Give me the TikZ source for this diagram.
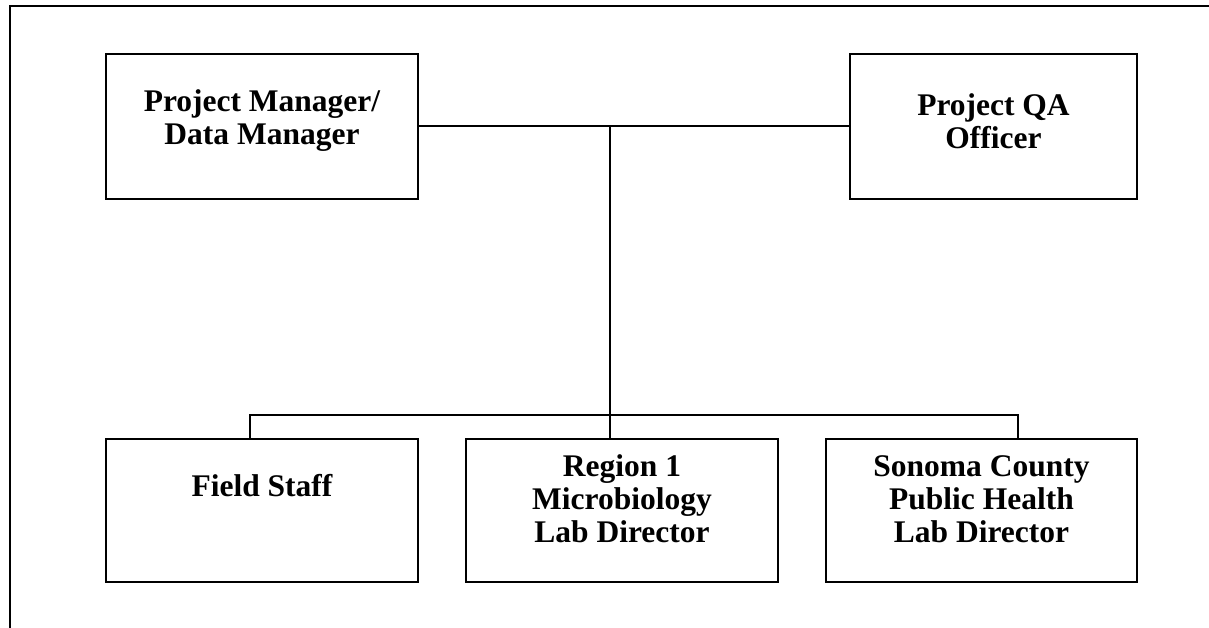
\documentclass[tikz,border=0pt]{standalone}
\usepackage{fontspec}
\setmainfont{Liberation Serif}
\begin{document}
\begin{tikzpicture}[x=1pt,y=-1pt,
  box/.style={draw, line width=2pt, inner sep=0pt},
  lbl/.style={align=center, inner sep=0pt, font=\bfseries\fontsize{31.5}{33}\selectfont},
  conn/.style={line width=1.6pt},
  frame/.style={line width=2.2pt}]
\useasboundingbox (0,0) rectangle (1209,627);
% outer frame
\coordinate (fbl) at (10,640);
\coordinate (ftl) at (10,6);
\coordinate (ftr) at (1220,6);
\draw[frame] (fbl) -- (ftl) -- (ftr);
% boxes
\node[box, minimum width=312pt, minimum height=145pt] (pm) at (262,126.5) {};
\node[box, minimum width=287pt, minimum height=145pt] (qa) at (993.5,126.5) {};
\node[box, minimum width=312pt, minimum height=143pt] (fs) at (262,510.5) {};
\node[box, minimum width=312pt, minimum height=143pt] (rg) at (622,510.5) {};
\node[box, minimum width=311pt, minimum height=143pt] (sc) at (981.5,510.5) {};
% labels
\node[lbl] (pmt) at (262,121) {Project Manager/\\Data Manager};
\node[lbl] (qat) at (993.5,121) {Project QA\\Officer};
\node[lbl] (fst) at (262,486) {Field Staff};
\node[lbl] (rgt) at (622,499) {Region 1\\Microbiology\\Lab Director};
\node[lbl] (sct) at (981.5,499) {Sonoma County\\Public Health\\Lab Director};
% connectors
\coordinate (j1) at (610,126);
\coordinate (b1) at (250,415);
\coordinate (b3) at (1018,415);
\draw[conn] (pm.east |- j1) -- (qa.west |- j1);
\draw[conn] (j1) -- (j1 |- rg.north);
\draw[conn] (b1 |- fs.north) -- (b1) -- (b3) -- (b3 |- sc.north);
\end{tikzpicture}
\end{document}
